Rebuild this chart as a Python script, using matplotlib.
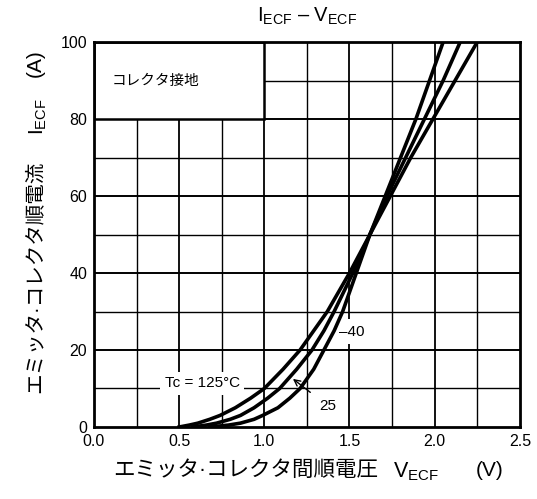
import numpy as np
import matplotlib
matplotlib.use("Agg")
import matplotlib.pyplot as plt
from matplotlib.patches import Rectangle

plt.rcParams['font.family'] = ['Liberation Sans', 'Noto Sans CJK JP']
plt.rcParams['mathtext.fontset'] = 'custom'
plt.rcParams['mathtext.rm'] = 'Liberation Sans'
plt.rcParams['mathtext.it'] = 'Liberation Sans:italic'

# forward current points (A), shared by the three curves
i_ecf = [0, 0.5, 1, 2, 3, 5, 7.5, 10, 15, 20, 25, 30, 40, 50, 60, 70, 80, 90, 100]
# forward voltage (V)
v_125 = [0.50, 0.56, 0.61, 0.68, 0.74, 0.83, 0.92, 1.00, 1.11, 1.21, 1.29, 1.37,
         1.50, 1.62, 1.74, 1.86, 1.99, 2.12, 2.25]
v_25 = [0.58, 0.66, 0.72, 0.80, 0.86, 0.94, 1.02, 1.09, 1.19, 1.28, 1.35, 1.41,
        1.52, 1.62, 1.72, 1.83, 1.94, 2.05, 2.15]
v_m40 = [0.68, 0.79, 0.86, 0.94, 0.99, 1.08, 1.15, 1.21, 1.29, 1.35, 1.41, 1.46,
         1.54, 1.62, 1.71, 1.80, 1.89, 1.97, 2.05]

x_ticks = [0.0, 0.5, 1.0, 1.5, 2.0, 2.5]
y_ticks = [0, 20, 40, 60, 80, 100]

fig = plt.figure(figsize=(5.37, 4.99), dpi=100)
ax = fig.add_axes([0.175, 0.1443, 0.793, 0.7715])
ax.set_xlim(0, 2.5)
ax.set_ylim(0, 100)

# grid: every 0.25 V and 10 A
for x in np.arange(0.25, 2.5, 0.25):
    ax.axvline(x, color='black', lw=1.0 if abs(x * 2 - round(x * 2)) > 1e-6 else 1.3, zorder=1)
for y in range(10, 100, 10):
    ax.axhline(y, color='black', lw=1.0 if y % 20 else 1.4, zorder=1)

for v in (v_125, v_25, v_m40):
    ax.plot(v, i_ecf, color='black', lw=2.6, zorder=4, solid_joinstyle='round')

# "collector grounded" box
ax.add_patch(Rectangle((0, 80), 1.0, 20, facecolor='white', edgecolor='black',
                       lw=1.8, zorder=2))
ax.text(0.105, 90, 'コレクタ接地', fontsize=10.5, va='center', ha='left', zorder=3)

ax.text(0.635, 11.3, 'Tc = 125°C', fontsize=11, ha='center', va='center',
        bbox=dict(facecolor='white', edgecolor='none', pad=3), zorder=3)
ax.text(1.514, 24.7, '–40', fontsize=11, ha='center', va='center',
        bbox=dict(facecolor='white', edgecolor='none', pad=4), zorder=3)
ax.annotate('25', xy=(1.168, 12.5), xytext=(1.375, 5.4), fontsize=11,
            ha='center', va='center', zorder=5,
            arrowprops=dict(arrowstyle='->', color='black', lw=1.0,
                            shrinkA=6, shrinkB=0))

ax.set_xticks(x_ticks)
ax.set_xticklabels([f'{t:.1f}' for t in x_ticks])
ax.set_yticks(y_ticks)
ax.tick_params(length=0, labelsize=11.5, pad=5)
for s in ax.spines.values():
    s.set_linewidth(2.0)
    s.set_zorder(6)

fig.text(0.572, 0.968, r'$\mathregular{I_{ECF}\ –\ V_{ECF}}$', fontsize=14.5,
         ha='center', va='center')

# x label pieces
fig.text(0.457, 0.058, 'エミッタ·コレクタ間順電圧', fontsize=15.5, ha='center', va='center')
fig.text(0.775, 0.054, r'$\mathregular{V_{ECF}}$', fontsize=15.5, ha='center', va='center')
fig.text(0.912, 0.058, '(V)', fontsize=15, ha='center', va='center')

# y label pieces
fig.text(0.066, 0.446, 'エミッタ·コレクタ順電流', fontsize=14.8, rotation=90,
         ha='center', va='center')
fig.text(0.071, 0.767, r'$\mathregular{I_{ECF}}$', fontsize=15, rotation=90,
         ha='center', va='center')
fig.text(0.066, 0.874, '(A)', fontsize=15, rotation=90, ha='center', va='center')

fig.savefig('out.png', dpi=100)
